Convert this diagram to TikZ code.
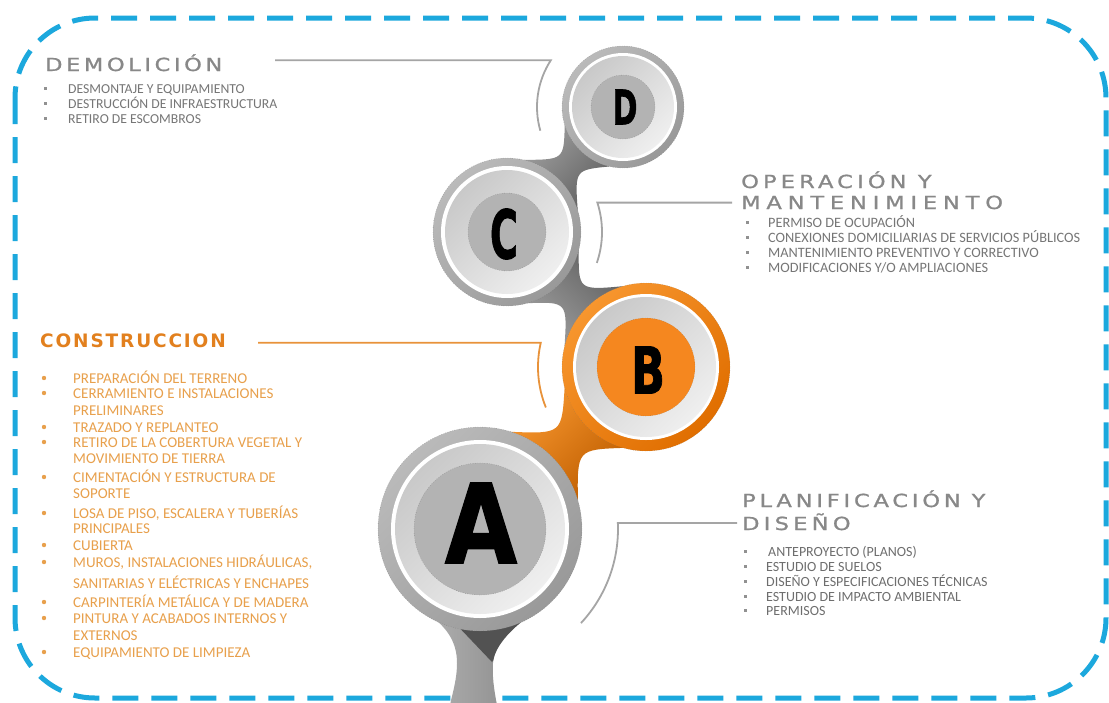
\documentclass[tikz,border=0pt]{standalone}
\usepackage{fontspec}
\usepackage{graphicx}
\setmainfont{Carlito}
\newfontfamily\tfont[FakeBold=1]{DejaVu Sans}
\newfontfamily\cfont{DejaVu Sans}
\newfontfamily\lfont[FakeBold=1.5]{DejaVu Sans Bold}
\usetikzlibrary{calc}
\definecolor{framecyan}{HTML}{1CA8DD}
\definecolor{titlegray}{HTML}{888888}
\definecolor{itemgray}{HTML}{767676}
\definecolor{itemgrayb}{HTML}{6E6E6E}
\definecolor{orgtitle}{HTML}{E2801E}
\definecolor{orgitem}{HTML}{E8A04C}
\definecolor{leadgray}{HTML}{A5A5A5}
\definecolor{leadorg}{HTML}{E8923A}
\definecolor{ringA}{HTML}{BABABA}
\definecolor{ringB}{HTML}{999999}
\definecolor{midA}{HTML}{C9C9C9}
\definecolor{midB}{HTML}{EFEFEF}
\definecolor{innergray}{HTML}{B3B3B3}
\definecolor{orgA}{HTML}{F7962E}
\definecolor{orgB}{HTML}{E06E00}
\definecolor{orginner}{HTML}{F5871F}
\newcommand\neckpts[8]{%
  \coordinate (nm) at ($(#1)!#7!(#4)$);
  \coordinate (nm1) at ($(nm)!#8pt!90:(#4)$);
  \coordinate (nm2) at ($(nm)!#8pt!-90:(#4)$);
  \coordinate (na1) at ($(#1)!#2pt!#3:(#4)$);
  \coordinate (na2) at ($(#1)!#2pt!-#3:(#4)$);
  \coordinate (nb1) at ($(#4)!#5pt!-#6:(#1)$);
  \coordinate (nb2) at ($(#4)!#5pt!#6:(#1)$);
}
\newcommand\ringcircle[7]{%
  \path[#6] (#1) circle[radius=#2];
  \fill[white] (#1) circle[radius=#3];
  \shade[top color=midA, bottom color=midB, shading angle=45] (#1) circle[radius=#4];
  \fill[#7] (#1) circle[radius=#5];
  \draw[black!55, line width=0.35pt, dotted] (#1) circle[radius=#5];
  \draw[black!55, line width=0.35pt, dotted] (#1) circle[radius=#2];
}
\newcommand\wide[2]{\scalebox{1.25}[1]{\addfontfeature{LetterSpace=#1}#2}}
\begin{document}
\begin{tikzpicture}[x=1pt,y=1pt,
  item/.style={anchor=base west, inner sep=0pt, font=\fontsize{13.7}{15}\selectfont, text=itemgray},
  itemop/.style={item, font=\fontsize{14.3}{15}\selectfont},
  itempl/.style={item, font=\fontsize{14}{15}\selectfont, text=itemgrayb},
  itemco/.style={item, font=\fontsize{15}{16}\selectfont, text=orgitem},
  ttl/.style={anchor=base west, inner sep=0pt, text=titlegray, font=\tfont\fontsize{18}{20}\selectfont},
  sqb/.style={fill=itemgray!80, minimum size=3pt, inner sep=0pt},
  rdb/.style={circle, fill=orgitem, minimum size=4.4pt, inner sep=0pt},
  lead/.style={draw=leadgray, line width=1.8pt},
  leadc/.style={draw=leadorg, line width=1.8pt},
  letter/.style={inner sep=0pt, text=black},
  graying/.style={top color=ringA, bottom color=ringB, shading angle=45},
  orangering/.style={top color=orgA, bottom color=orgB, shading angle=45}]
\useasboundingbox (0,0) rectangle (1109,-702);
\fill[white] (0,0) rectangle (1109,-702);

% frame
\draw[framecyan, line width=5pt, dash pattern=on 26pt off 13pt, rounded corners=80pt]
  (15,-18) rectangle (1106,-698);

% centres
\coordinate (D) at (623,-107);
\coordinate (C) at (507,-232);
\coordinate (B) at (646,-367);
\coordinate (A) at (480,-529);

% leader lines
\draw[lead] (275,-60.2) -- ($(D)+(147:86)$) arc[start angle=147, end angle=196, radius=86];
\draw[lead] (732,-202.6) -- ($(C)+(18:95)$) arc[start angle=18, end angle=-19, radius=95];
\draw[leadc] (258,-342.7) -- ($(B)+(167:108)$) arc[start angle=167, end angle=202, radius=108];
\draw[lead] (737,-523) -- ($(A)+(2.5:138)$) arc[start angle=2.5, end angle=-43, radius=138];

% necks
\neckpts{C}{74}{30}{D}{61}{30}{0.538}{7.5}
\shade[top color=ringA!85!black, bottom color=black!62, shading angle=47]
  (na1) .. controls (nm1) .. (nb1) -- (nb2) .. controls (nm2) .. (na2) -- cycle;
\neckpts{C}{74}{30}{B}{84}{30}{0.474}{8}
\shade[top color=black!62, bottom color=ringA!85!black, shading angle=-44]
  (na1) .. controls (nm1) .. (nb1) -- (nb2) .. controls (nm2) .. (na2) -- cycle;
\neckpts{A}{102}{28}{B}{84}{30}{0.539}{11}
\shade[top color=orgA, bottom color=orgB!85!black, shading angle=44]
  (na1) .. controls (nm1) .. (nb1) -- (nb2) .. controls (nm2) .. (na2) -- cycle;

% stem
\begin{scope}
\path[clip] (425,-612) .. controls (445,-625) and (457,-640) .. (457,-663)
  .. controls (457,-680) and (452,-695) .. (450,-705) -- (497,-705)
  .. controls (494,-690) and (492,-675) .. (493,-663)
  .. controls (494,-645) and (515,-625) .. (535,-612) -- cycle;
\shade[left color=black!30, right color=black!48] (420,-600) rectangle (540,-705);
\fill[black!68] (452,-620) -- (525,-620) -- (492,-662) -- cycle;
\end{scope}

% circles
\ringcircle{D}{61}{54}{51}{32}{graying}{innergray}
\ringcircle{C}{74}{66}{62}{39}{graying}{innergray}
\ringcircle{B}{84}{73}{70}{49}{orangering}{orginner}
\ringcircle{A}{102}{89}{85}{66}{graying}{innergray}

\node[letter] (Dl) at (625,-107) {\resizebox{25pt}{35pt}{\lfont D}};
\node[letter] (Cl) at (504,-234) {\resizebox{28pt}{50pt}{\lfont C}};
\node[letter] (Bl) at (648,-370) {\resizebox{34pt}{47pt}{\lfont B}};
\node[letter] (Al) at (481,-523) {\resizebox{72pt}{80pt}{\lfont A}};

% titles
\node[ttl] (tD) at (45,-71) {\wide{16}{DEMOLICIÓN}};
\node[ttl] (tO1) at (741,-188) {\wide{18.5}{OPERACIÓN Y}};
\node[ttl] (tO2) at (741,-209) {\wide{26}{MANTENIMIENTO}};
\node[ttl, text=orgtitle, font={\cfont\bfseries\fontsize{18.5}{20}\selectfont\addfontfeature{LetterSpace=10}}] (tC) at (40,-347) {CONSTRUCCION};
\node[ttl] (tP1) at (742,-507) {\wide{17}{PLANIFICACIÓN Y}};
\node[ttl] (tP2) at (742,-530) {\wide{19}{DISEÑO}};

% Demolicion items
\node[item] (d1) at (68,-93) {DESMONTAJE Y EQUIPAMIENTO};
\node[item] (d2) at (68,-108) {DESTRUCCIÓN DE INFRAESTRUCTURA};
\node[item] (d3) at (68,-123) {RETIRO DE ESCOMBROS};
\node[sqb] (bd1) at (45,-88.5) {};
\node[sqb] (bd2) at (45,-103.5) {};
\node[sqb] (bd3) at (45,-118.5) {};

% Operacion items
\node[itemop] (o1) at (768,-227) {PERMISO DE OCUPACIÓN};
\node[itemop] (o2) at (768,-242) {CONEXIONES DOMICILIARIAS DE SERVICIOS PÚBLICOS};
\node[itemop] (o3) at (768,-257) {MANTENIMIENTO PREVENTIVO Y CORRECTIVO};
\node[itemop] (o4) at (768,-272) {MODIFICACIONES Y/O AMPLIACIONES};
\node[sqb] (bo1) at (747,-222.5) {};
\node[sqb] (bo2) at (747,-237.5) {};
\node[sqb] (bo3) at (747,-252.5) {};
\node[sqb] (bo4) at (747,-267.5) {};

% Construccion items
\node[itemco] (c1) at (73,-383) {PREPARACIÓN DEL TERRENO};
\node[itemco] (c2) at (73,-398) {CERRAMIENTO E INSTALACIONES};
\node[itemco] (c2b) at (73,-415) {PRELIMINARES};
\node[itemco] (c3) at (73,-432) {TRAZADO Y REPLANTEO};
\node[itemco] (c4) at (73,-447) {RETIRO DE LA COBERTURA VEGETAL Y};
\node[itemco] (c4b) at (73,-463) {MOVIMIENTO DE TIERRA};
\node[itemco] (c5) at (73,-482) {CIMENTACIÓN Y ESTRUCTURA DE};
\node[itemco] (c5b) at (73,-498) {SOPORTE};
\node[itemco] (c6) at (73,-518) {LOSA DE PISO, ESCALERA Y TUBERÍAS};
\node[itemco] (c6b) at (73,-533) {PRINCIPALES};
\node[itemco] (c7) at (73,-550) {CUBIERTA};
\node[itemco] (c8) at (73,-567) {MUROS, INSTALACIONES HIDRÁULICAS,};
\node[itemco] (c8b) at (73,-588) {SANITARIAS Y ELÉCTRICAS Y ENCHAPES};
\node[itemco] (c9) at (73,-607) {CARPINTERÍA METÁLICA Y DE MADERA};
\node[itemco] (c10) at (73,-623) {PINTURA Y ACABADOS INTERNOS Y};
\node[itemco] (c10b) at (73,-640) {EXTERNOS};
\node[itemco] (c11) at (73,-657) {EQUIPAMIENTO DE LIMPIEZA};
\foreach \yy/\nm in {383/1,398/2,432/3,447/4,482/5,518/6,550/7,567/8,607/9,623/10,657/11}
  \node[rdb] (bc\nm) at (44,-\yy+5) {};

% Planificacion items
\node[itempl] (p1) at (768,-556) {ANTEPROYECTO (PLANOS)};
\node[itempl] (p2) at (766,-571) {ESTUDIO DE SUELOS};
\node[itempl] (p3) at (766,-586) {DISEÑO Y ESPECIFICACIONES TÉCNICAS};
\node[itempl] (p4) at (766,-601) {ESTUDIO DE IMPACTO AMBIENTAL};
\node[itempl] (p5) at (766,-615) {PERMISOS};
\node[sqb] (bp1) at (745,-551.5) {};
\node[sqb] (bp2) at (745,-566.5) {};
\node[sqb] (bp3) at (745,-581.5) {};
\node[sqb] (bp4) at (745,-596.5) {};
\node[sqb] (bp5) at (745,-610.5) {};
\end{tikzpicture}
\end{document}
